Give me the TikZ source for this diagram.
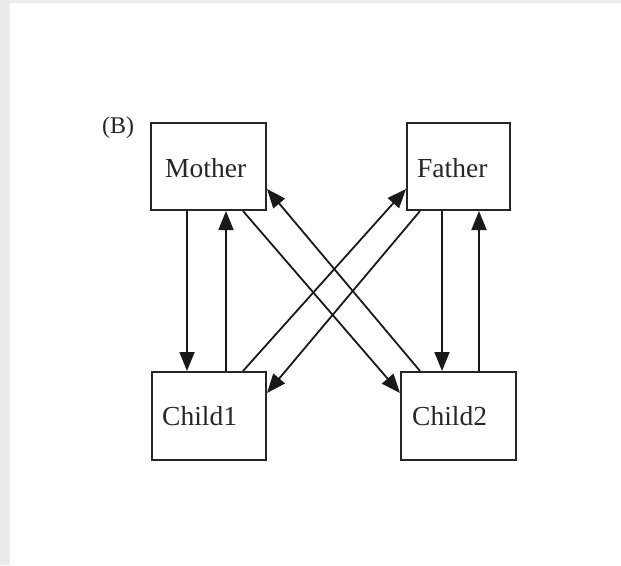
\documentclass[tikz,border=0pt]{standalone}
\usepackage{fontspec}
\setmainfont{Liberation Serif}
\usetikzlibrary{arrows.meta}
\definecolor{pagegray}{HTML}{ECECEC}
\begin{document}
\begin{tikzpicture}[x=1pt,y=-1pt,
  box/.style={draw=black!85,line width=2pt,inner sep=0pt,fill=white},
  lbl/.style={inner sep=0pt,anchor=base west,font=\fontsize{27.5}{30}\selectfont,text=black!85},
  conn/.style={line width=1.8pt,draw=black!90,-{Triangle[length=19pt,width=15pt]}}]
\useasboundingbox (0,0) rectangle (621,565);
\fill[pagegray] (0,0) rectangle (621,565);
\fill[white] (10,3) rectangle (621,565);
% boxes
\node[box,minimum width=115pt,minimum height=87pt] (M) at (208.5,166.5) {};
\node[box,minimum width=103pt,minimum height=87pt] (F) at (458.5,166.5) {};
\node[box,minimum width=114pt,minimum height=88pt] (C1) at (209,416) {};
\node[box,minimum width=115pt,minimum height=88pt] (C2) at (458.5,416) {};
% labels
\node[lbl] (Mt) at (165,177) {Mother};
\node[lbl] (Ft) at (417,177) {Father};
\node[lbl] (C1t) at (162,425) {Child1};
\node[lbl] (C2t) at (412,425) {Child2};
\node[inner sep=0pt,anchor=base west,font=\fontsize{24}{26}\selectfont,text=black!85] (B) at (102,133) {(B)};
% connectors
\draw[conn] ([xshift=-21.5pt]M.south) -- ([xshift=-22pt]C1.north);
\draw[conn] ([xshift=17pt]C1.north) -- ([xshift=17.5pt]M.south);
\draw[conn] ([xshift=34.5pt]M.south) -- ([yshift=23pt]C2.west);
\draw[conn] ([xshift=-38.5pt]C2.north) -- ([yshift=-22.5pt]M.east);
\draw[conn] ([xshift=-38.5pt]F.south) -- ([yshift=23pt]C1.east);
\draw[conn] ([xshift=34pt]C1.north) -- ([yshift=-22.5pt]F.west);
\draw[conn] ([xshift=-16.5pt]F.south) -- ([xshift=-16.5pt]C2.north);
\draw[conn] ([xshift=20.5pt]C2.north) -- ([xshift=20.5pt]F.south);
\end{tikzpicture}
\end{document}
